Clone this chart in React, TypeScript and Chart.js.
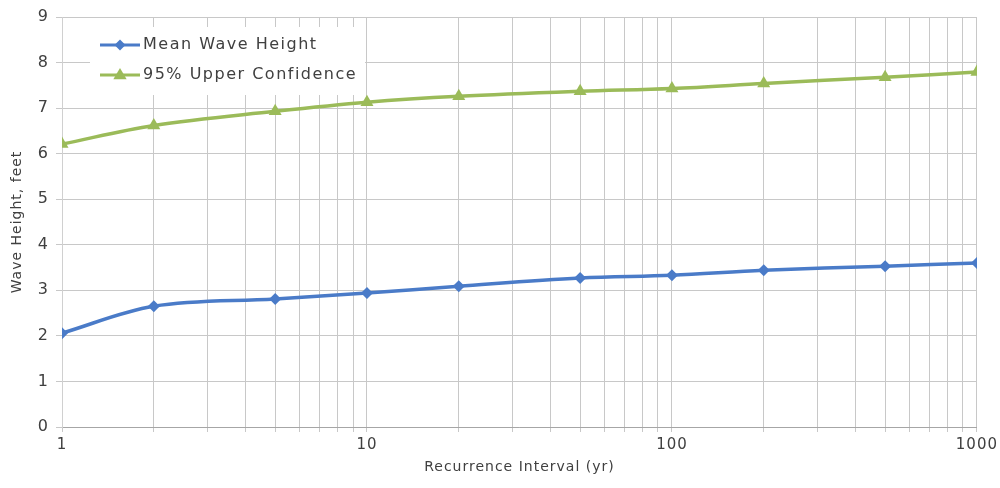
import React, { useEffect, useRef } from "react";
import { Chart, registerables } from "chart.js";

Chart.register(...registerables);

const intervals = [1, 2, 5, 10, 20, 50, 100, 200, 500, 1000];
const meanWaveHeight = [2.06, 2.65, 2.81, 2.94, 3.09, 3.27, 3.33, 3.44, 3.53, 3.6];
const upperConfidence = [6.21, 6.62, 6.93, 7.13, 7.26, 7.37, 7.43, 7.54, 7.68, 7.79];
const seriesLabels = ["Mean Wave Height", "95% Upper Confidence"];
const majorTicks = [1, 10, 100, 1000];
const yTitle = "Wave Height, feet";
const xTitle = "Recurrence Interval (yr)";

const BLUE = "#4A7BC8";
const GREEN = "#9BBB59";
const TEXT = "#404040";
const FONT = "'DejaVu Sans', sans-serif";

function marker(ctx: CanvasRenderingContext2D, style: string, x: number, y: number, r: number) {
  ctx.beginPath();
  if (style === "rectRot") {
    ctx.moveTo(x, y - r);
    ctx.lineTo(x + r, y);
    ctx.lineTo(x, y + r);
    ctx.lineTo(x - r, y);
  } else {
    ctx.moveTo(x, y - r);
    ctx.lineTo(x + r * 0.95, y + r * 0.6);
    ctx.lineTo(x - r * 0.95, y + r * 0.6);
  }
  ctx.closePath();
  ctx.fill();
}

const spacingPlugin = {
  id: "letterSpacing",
  beforeInit(chart: any) {
    (chart.ctx as any).letterSpacing = "1px";
  },
  beforeDraw(chart: any) {
    (chart.ctx as any).letterSpacing = "1px";
  },
};

const legendPlugin = {
  id: "insideLegend",
  afterDatasetsDraw(chart: any) {
    const ctx = chart.ctx as CanvasRenderingContext2D;
    ctx.save();
    ctx.fillStyle = "#ffffff";
    ctx.fillRect(90, 27, 275, 68);
    const rows = [
      { y: 45, color: BLUE, style: "rectRot", r: 5.5 },
      { y: 75, color: GREEN, style: "triangle", r: 7 },
    ];
    rows.forEach((row, i) => {
      ctx.strokeStyle = row.color;
      ctx.lineWidth = 3;
      ctx.beginPath();
      ctx.moveTo(100, row.y);
      ctx.lineTo(140, row.y);
      ctx.stroke();
      ctx.fillStyle = row.color;
      marker(ctx, row.style, 120, row.y, row.r);
      ctx.fillStyle = TEXT;
      ctx.font = `16px ${FONT}`;
      (ctx as any).letterSpacing = "1.5px";
      ctx.textBaseline = "middle";
      ctx.textAlign = "left";
      ctx.fillText(seriesLabels[i], 143, row.y);
    });
    ctx.restore();
  },
};

export default function App() {
  const ref = useRef<HTMLCanvasElement>(null);
  useEffect(() => {
    if (!ref.current) return;
    const chart = new Chart(ref.current, {
      type: "line",
      data: {
        datasets: [
          {
            label: seriesLabels[0],
            data: intervals.map((x, i) => ({ x, y: meanWaveHeight[i] })),
            borderColor: BLUE,
            backgroundColor: BLUE,
            borderWidth: 3.5,
            pointStyle: "rectRot",
            pointRadius: 6,
            pointBorderWidth: 0,
            tension: 0.35,
          },
          {
            label: seriesLabels[1],
            data: intervals.map((x, i) => ({ x, y: upperConfidence[i] })),
            borderColor: GREEN,
            backgroundColor: GREEN,
            borderWidth: 3.5,
            pointStyle: "triangle",
            pointRadius: 7.5,
            pointBorderWidth: 0,
            tension: 0.35,
          },
        ],
      },
      options: {
        animation: false,
        responsive: false,
        maintainAspectRatio: false,
        layout: { padding: { left: 9, right: 23, top: 17, bottom: 12 } },
        plugins: { legend: { display: false }, tooltip: { enabled: false } },
        scales: {
          x: {
            type: "logarithmic",
            min: 1,
            max: 1000,
            afterFit: (s: any) => {
              s.height = 49;
            },
            afterBuildTicks: (s: any) => {
              const t: any[] = [];
              for (let d = 1; d <= 100; d *= 10) {
                for (let k = 1; k <= 9; k++) t.push({ value: d * k });
              }
              t.push({ value: 1000 });
              s.ticks = t;
            },
            ticks: {
              autoSkip: false,
              maxRotation: 0,
              color: TEXT,
              font: { family: FONT, size: 15 },
              padding: 4,
              callback: (v: any) => (majorTicks.includes(Number(v)) ? String(v) : ""),
            },
            grid: {
              color: "#c8c8c8",
              lineWidth: 1,
              drawTicks: true,
              tickLength: 5,
            },
            border: { color: "#a6a6a6", width: 1 },
            title: {
              display: true,
              text: xTitle,
              color: TEXT,
              font: { family: FONT, size: 14 },
              padding: { top: 2, bottom: 0 },
            },
          },
          y: {
            min: 0,
            max: 9,
            afterFit: (s: any) => {
              s.width = 53;
            },
            ticks: {
              stepSize: 1,
              color: TEXT,
              font: { family: FONT, size: 16 },
              padding: 7,
            },
            grid: { color: "#c8c8c8", lineWidth: 1, tickLength: 6 },
            border: { color: "#d0d0d0", width: 1 },
            title: {
              display: true,
              text: yTitle,
              color: TEXT,
              font: { family: FONT, size: 14 },
              padding: { top: 0, bottom: 2 },
            },
          },
        },
      },
      plugins: [spacingPlugin, legendPlugin],
    });
    return () => chart.destroy();
  }, []);
  return (
    <div style={{ position: "fixed", left: 0, top: 0, width: 1000, height: 488, background: "#fff" }}>
      <canvas ref={ref} width={1000} height={488} style={{ width: 1000, height: 488, display: "block" }} />
    </div>
  );
}
